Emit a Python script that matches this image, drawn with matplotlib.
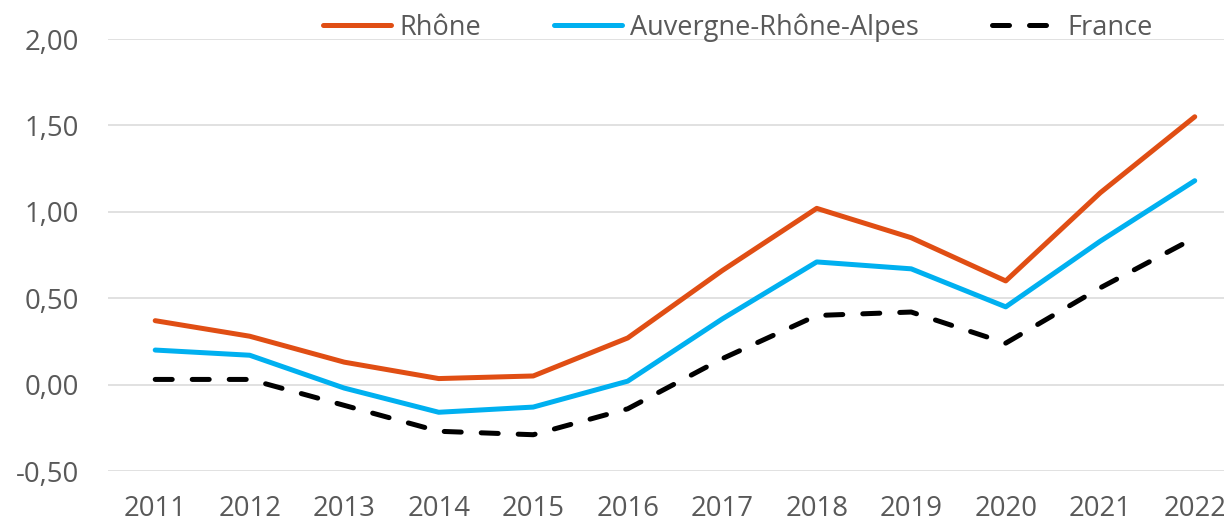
import matplotlib
matplotlib.use('Agg')
import matplotlib.pyplot as plt
from matplotlib.ticker import FuncFormatter

plt.rcParams['font.family'] = ['Open Sans', 'DejaVu Sans']

years = ['2011', '2012', '2013', '2014', '2015', '2016',
         '2017', '2018', '2019', '2020', '2021', '2022']
rhone = [0.37, 0.28, 0.13, 0.035, 0.05, 0.27, 0.66, 1.02, 0.85, 0.60, 1.11, 1.55]
ara = [0.20, 0.17, -0.02, -0.16, -0.13, 0.02, 0.38, 0.71, 0.67, 0.45, 0.83, 1.18]
france = [0.03, 0.03, -0.12, -0.27, -0.29, -0.14, 0.15, 0.40, 0.42, 0.24, 0.56, 0.85]
yticks = [-0.5, 0.0, 0.5, 1.0, 1.5, 2.0]

fig = plt.figure(figsize=(12.24, 5.23), dpi=100)
ax = fig.add_axes([0.0882, 0.0994, 0.9265, 0.826])

x = range(len(years))
ax.plot(x, rhone, color='#E04E14', lw=3.6, solid_capstyle='round',
        solid_joinstyle='round', label='Rhône', zorder=3)
ax.plot(x, ara, color='#00B0F0', lw=3.6, solid_capstyle='round',
        solid_joinstyle='round', label='Auvergne-Rhône-Alpes', zorder=3)
ax.plot(x, france, color='black', lw=3.6, dashes=(3.4, 4.0),
        dash_capstyle='round', dash_joinstyle='round', label='France', zorder=3)

ax.set_xlim(-0.5, len(years) - 0.5)
ax.set_ylim(-0.5, 2.0)
ax.set_yticks(yticks)
ax.yaxis.set_major_formatter(FuncFormatter(lambda v, p: ('%.2f' % v).replace('.', ',')))
ax.set_xticks(list(x))
ax.set_xticklabels(years)
ax.grid(axis='y', color='#D9D9D9', lw=1.1, zorder=0)
for s in ax.spines.values():
    s.set_visible(False)
ax.tick_params(axis='both', length=0, labelsize=19.8, colors='#595959')
ax.tick_params(axis='y', pad=21)
ax.tick_params(axis='x', pad=17)

leg = ax.legend(loc='center', bbox_to_anchor=(0.603, 0.947),
                bbox_transform=fig.transFigure, ncol=3, frameon=False,
                fontsize=19.5, handlelength=2.5, handletextpad=0.3,
                columnspacing=2.7)
for t in leg.get_texts():
    t.set_color('#595959')

fig.savefig('out.png', dpi=100)
